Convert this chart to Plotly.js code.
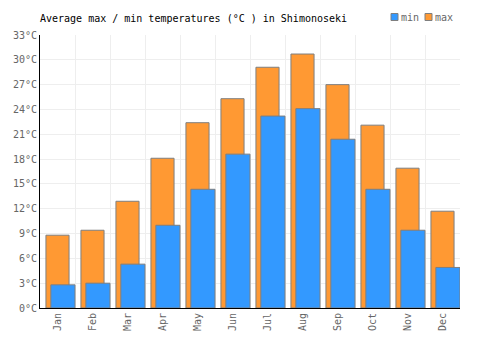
<!DOCTYPE html>
<html>
<head>
<meta charset="utf-8">
<script src="https://cdn.plot.ly/plotly-3.0.1.min.js"></script>
<style>html,body{margin:0;padding:0;background:#fff;}#chart{width:500px;height:350px;}</style>
</head>
<body>
<div id="chart"></div>
<script>
const months = ["Jan","Feb","Mar","Apr","May","Jun","Jul","Aug","Sep","Oct","Nov","Dec"];
const maxTemps = [8.8, 9.4, 12.9, 18.1, 22.4, 25.3, 29.1, 30.7, 27.0, 22.1, 16.9, 11.7];
const minTemps = [2.8, 3.0, 5.3, 10.0, 14.35, 18.6, 23.2, 24.1, 20.4, 14.35, 9.4, 4.9];
const yTicks = [0,3,6,9,12,15,18,21,24,27,30,33];
const seriesNames = ["min","max"];
const seriesColors = ["#3399ff","#ff9933"];

const font = "DejaVu Sans Mono, monospace";
const W = 500, H = 350, L = 40, R = 40, T = 35, B = 42;
const pw = W - L - R, ph = H - T - B;
const px = v => (v - L) / pw;        // pixel x -> paper x
const py = v => (H - B - v) / ph;    // pixel y -> paper y

const traces = [
  {type:"bar", name:seriesNames[1], x:months, y:maxTemps, offset:-0.33, width:0.66,
   marker:{color:seriesColors[1], line:{color:"#7f7f7f", width:1}}, hoverinfo:"y"},
  {type:"bar", name:seriesNames[0], x:months, y:minTemps, offset:-0.19, width:0.69,
   marker:{color:seriesColors[0], line:{color:"#7f7f7f", width:1}}, hoverinfo:"y"}
];

// compact custom legend (min, max)
const legendX = [391, 425];
const shapes = [], annotations = [];
seriesNames.forEach((n, i) => {
  shapes.push({type:"rect", xref:"paper", yref:"paper",
    x0:px(legendX[i]), x1:px(legendX[i] + 7), y0:py(20.5), y1:py(13.5),
    fillcolor:seriesColors[i], line:{color:"#7f7f7f", width:1}});
  annotations.push({xref:"paper", yref:"paper", x:px(legendX[i] + 8), y:py(17.5), xanchor:"left", yanchor:"middle",
    text:n, showarrow:false, font:{family:font, size:10, color:"#666"}});
});

const layout = {
  width:W, height:H,
  margin:{l:L, r:R, t:T, b:B},
  paper_bgcolor:"#fff", plot_bgcolor:"#fff",
  barmode:"overlay",
  font:{family:font, size:10, color:"#666"},
  title:{text:"Average max / min temperatures (°C ) in Shimonoseki", x:L/W, xanchor:"left", y:1-18/H, yanchor:"middle",
    font:{family:font, size:10, color:"#000"}},
  showlegend:false,
  shapes:shapes, annotations:annotations,
  xaxis:{type:"category", categoryarray:months, tickson:"boundaries", showgrid:true, gridcolor:"#eeeeee", gridwidth:1,
    showline:true, linecolor:"#000", linewidth:1, tickangle:-90, ticks:"", tickfont:{family:font, size:10, color:"#666"},
    range:[-0.5, 11.5], fixedrange:true},
  yaxis:{range:[0,33], tickvals:yTicks, ticktext:yTicks.map(v=>v+"°C"), showgrid:true, gridcolor:"#eeeeee", gridwidth:1,
    showline:true, linecolor:"#000", linewidth:1, zeroline:false, ticks:"", tickfont:{family:font, size:10, color:"#666"}, fixedrange:true}
};
Plotly.newPlot("chart", traces, layout, {displayModeBar:false, staticPlot:true});
</script>
</body>
</html>
